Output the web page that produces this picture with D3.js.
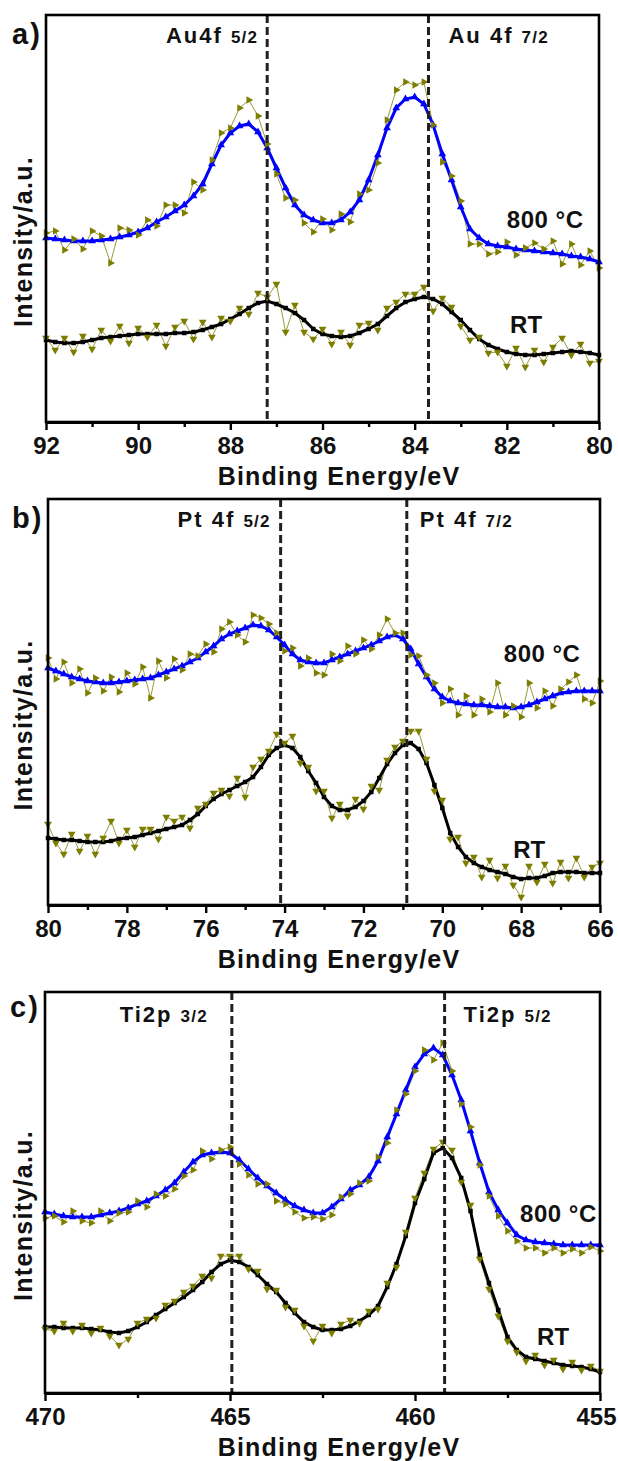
<!DOCTYPE html>
<html>
<head>
<meta charset="utf-8">
<script src="https://cdn.jsdelivr.net/npm/d3@7/dist/d3.min.js"></script>
<style>
  body { margin: 0; background: #fff; }
  svg text { font-family: "Liberation Sans", Arial, sans-serif; font-weight: bold; fill: #111; }
</style>
</head>
<body>
<svg id="chart" width="618" height="1461"></svg>
<script>
// ---- data (intensity in arbitrary units) ----

// a) Au 4f, 92 -> 80 eV, step 0.2
const auEnergy = d3.range(61).map(i => +(92 - 0.2 * i).toFixed(2));
const auFit800 = [
  184, 183, 182, 181, 181, 181, 182, 183, 185, 187,
  190, 194, 200, 205, 211, 217, 226, 238, 258, 277,
  289, 296, 298, 290, 274, 254, 234, 217, 207, 202,
  199, 199, 202, 210, 222, 242, 267, 294, 314, 323,
  325, 318, 297, 268, 242, 215, 193, 184, 178, 176,
  175, 173, 172, 171, 170, 169, 168, 166, 165, 163,
  160];
const auRaw800 = [
  189, 191, 172, 183, 173, 191, 186, 159, 194, 192,
  187, 202, 196, 217, 217, 209, 240, 232, 262, 289,
  294, 314, 322, 306, 278, 248, 224, 222, 199, 190,
  203, 192, 208, 200, 228, 232, 259, 302, 332, 340,
  337, 340, 297, 260, 246, 221, 178, 178, 168, 170,
  180, 167, 174, 179, 173, 181, 158, 178, 157, 171,
  154];
const auFitRT = [
  82, 80, 79, 79, 80, 82, 84, 85, 86, 87,
  88, 88, 88, 88, 89, 89, 90, 92, 95, 98,
  103, 108, 114, 119, 121, 118, 114, 109, 102, 93,
  88, 86, 85, 86, 89, 93, 98, 106, 114, 120,
  123, 125, 123, 118, 110, 102, 92, 83, 77, 73,
  70, 68, 67, 67, 68, 69, 70, 71, 70, 69,
  67];
const auRawRT = [
  84, 72, 84, 70, 86, 73, 92, 81, 96, 79,
  94, 85, 97, 76, 95, 101, 83, 100, 85, 104,
  101, 114, 108, 129, 125, 138, 90, 117, 90, 83,
  93, 78, 90, 77, 97, 99, 92, 114, 120, 128,
  128, 135, 111, 124, 115, 96, 82, 85, 69, 70,
  56, 74, 55, 72, 60, 75, 84, 67, 78, 59,
  61];

// b) Pt 4f, 80 -> 66 eV, step 0.2
const ptEnergy = d3.range(71).map(i => +(80 - 0.2 * i).toFixed(2));
const ptFit800 = [
  237, 234, 231, 228, 226, 224, 223, 222, 222, 223,
  224, 225, 226, 227, 230, 233, 236, 239, 243, 247,
  253, 259, 266, 271, 274, 277, 280, 279, 275, 268,
  260, 251, 245, 243, 242, 242, 245, 248, 251, 254,
  257, 260, 264, 268, 270, 266, 256, 241, 228, 216,
  208, 204, 202, 201, 200, 200, 199, 198, 198, 197,
  198, 200, 203, 206, 209, 212, 213, 214, 214, 214,
  214];
const ptRaw800 = [
  247, 226, 243, 222, 236, 212, 227, 214, 228, 213,
  232, 221, 238, 207, 244, 227, 246, 235, 251, 249,
  261, 253, 276, 283, 270, 263, 290, 287, 281, 272,
  254, 257, 239, 247, 232, 230, 251, 244, 259, 251,
  265, 256, 270, 286, 272, 272, 250, 249, 230, 222,
  202, 216, 190, 209, 190, 206, 193, 222, 190, 199,
  188, 222, 197, 214, 199, 216, 223, 230, 206, 202,
  224];
const ptFitRT = [
  67, 66, 65, 65, 64, 63, 63, 63, 64, 66,
  67, 68, 70, 72, 74, 76, 78, 80, 85, 91,
  99, 106, 111, 115, 119, 123, 128, 138, 150, 157,
  160, 157, 148, 134, 122, 108, 99, 95, 95, 98,
  104, 113, 127, 141, 152, 160, 162, 156, 142, 120,
  97, 72, 58, 48, 42, 38, 35, 33, 31, 28,
  26, 27, 27, 29, 32, 33, 33, 33, 32, 32,
  32];
const ptRawRT = [
  81, 62, 51, 71, 54, 69, 51, 67, 84, 62,
  75, 58, 76, 76, 66, 88, 84, 88, 77, 97,
  101, 112, 115, 109, 127, 108, 138, 146, 154, 171,
  162, 169, 142, 138, 114, 114, 87, 101, 89, 106,
  96, 119, 115, 145, 158, 164, 174, 174, 146, 114,
  105, 66, 68, 42, 48, 28, 45, 27, 39, 20,
  8, 39, 23, 41, 22, 43, 27, 47, 28, 38,
  42];

// c) Ti 2p, 470 -> 455 eV, step 0.25
const tiEnergy = d3.range(61).map(i => +(470 - 0.25 * i).toFixed(2));
const tiFit800 = [
  181, 179, 177, 176, 176, 176, 178, 180, 182, 185,
  189, 192, 197, 203, 210, 221, 231, 238, 240, 241,
  240, 233, 224, 215, 207, 200, 193, 187, 183, 180,
  180, 186, 194, 203, 208, 216, 232, 256, 279, 303,
  326, 339, 345, 338, 318, 293, 262, 230, 201, 183,
  170, 158, 153, 151, 150, 149, 148, 148, 148, 148,
  148];
const tiRaw800 = [
  175, 177, 171, 182, 172, 170, 182, 172, 180, 181,
  192, 186, 199, 197, 204, 217, 223, 242, 234, 243,
  246, 229, 218, 209, 209, 192, 189, 181, 175, 176,
  174, 178, 196, 199, 210, 212, 236, 250, 283, 299,
  322, 343, 333, 350, 322, 289, 266, 228, 197, 177,
  162, 152, 145, 145, 140, 145, 140, 144, 140, 146,
  142];
const tiFitRT = [
  66, 66, 65, 65, 65, 64, 63, 61, 60, 62,
  66, 71, 78, 84, 90, 96, 103, 111, 121, 129,
  133, 131, 126, 118, 109, 101, 90, 80, 71, 66,
  63, 63, 64, 67, 72, 78, 87, 106, 129, 157,
  190, 214, 240, 245, 235, 215, 182, 138, 110, 83,
  56, 43, 36, 34, 32, 30, 28, 27, 26, 24,
  21];
const tiRawRT = [
  64, 62, 70, 62, 68, 60, 65, 57, 48, 54,
  70, 74, 75, 88, 92, 101, 107, 117, 115, 137,
  137, 137, 124, 122, 104, 103, 86, 83, 67, 52,
  67, 60, 69, 73, 70, 82, 84, 110, 126, 161,
  195, 220, 244, 251, 243, 211, 188, 134, 104, 77,
  52, 41, 32, 38, 28, 33, 24, 31, 23, 27,
  22];

// ticks
const auTicks = [92, 90, 88, 86, 84, 82, 80];
const auMinor = [91, 89, 87, 85, 83, 81];
const ptTicks = [80, 78, 76, 74, 72, 70, 68, 66];
const ptMinor = [79, 77, 75, 73, 71, 69, 67];
const tiTicks = [470, 465, 460, 455];
const tiMinor = [467.5, 462.5, 457.5];

// peak positions (eV) and their names
const auPeaks = [87.2, 83.7];
const auPeakNames = [["Au4f", "5/2"], ["Au 4f", "7/2"]];
const ptPeaks = [74.1, 70.9];
const ptPeakNames = [["Pt 4f", "5/2"], ["Pt 4f", "7/2"]];
const tiPeaks = [464.95, 459.2];
const tiPeakNames = [["Ti2p", "3/2"], ["Ti2p", "5/2"]];

// ---- layout ----
const panels = [
  { letter: "a)", letterPos: [12, 44], energy: auEnergy, fit800: auFit800, raw800: auRaw800, fitRT: auFitRT, rawRT: auRawRT,
    xDomain: [92, 80], yMax: 407, ticks: auTicks, minor: auMinor, peaks: auPeaks, peakNames: auPeakNames, peakGap: [9, 20], peakDy: 28,
    hot: [82.0, 194], rt: [81.93, 89], left: 46, right: 599, top: 15, bottom: 422 },
  { letter: "b)", letterPos: [12, 528], energy: ptEnergy, fit800: ptFit800, raw800: ptRaw800, fitRT: ptFitRT, rawRT: ptRawRT,
    xDomain: [80, 66], yMax: 406, ticks: ptTicks, minor: ptMinor, peaks: ptPeaks, peakNames: ptPeakNames, peakGap: [10, 13], peakDy: 28,
    hot: [68.44, 243], rt: [68.2, 47], left: 48, right: 600, top: 499, bottom: 905 },
  { letter: "c)", letterPos: [10, 1017], energy: tiEnergy, fit800: tiFit800, raw800: tiRaw800, fitRT: tiFitRT, rawRT: tiRawRT,
    xDomain: [470, 455], yMax: 401, ticks: tiTicks, minor: tiMinor, peaks: tiPeaks, peakNames: tiPeakNames, peakGap: [24, 19], peakDy: 30,
    hot: [457.16, 171], rt: [456.7, 48], left: 45, right: 600, top: 992, bottom: 1393 }
];

const BLUE = "#0000ff";
const OLIVE = "#7d7d00";
const OLIVE_LINE = "#9a9a3a";
const PAGE_W = 618;

const svg = d3.select("#chart");

function drawSeries(g, x, y, energy, values, opts) {
  const pts = d3.zip(energy, values);
  const line = d3.line().x(d => x(d[0])).y(d => y(d[1]));
  g.append("path")
    .datum(pts)
    .attr("fill", "none")
    .attr("stroke", opts.lineColor)
    .attr("stroke-width", opts.lineWidth)
    .attr("d", line);
  if (opts.noMarkers) return;
  const sym = d3.symbol().type(opts.symbol).size(opts.size);
  g.append("g").selectAll("path")
    .data(pts)
    .join("path")
    .attr("d", sym)
    .attr("fill", opts.fill)
    .attr("transform", d => `translate(${x(d[0])},${y(d[1])}) rotate(${opts.rotate || 0})`);
}

function drawPanel(p) {
  const g = svg.append("g");
  const x = d3.scaleLinear().domain(p.xDomain).range([p.left, p.right]);
  const y = d3.scaleLinear().domain([0, p.yMax]).range([p.bottom, p.top]);

  // raw lines first, then fits, then raw markers on top
  const rawOpts = { lineColor: OLIVE_LINE, lineWidth: 1, noMarkers: true };
  drawSeries(g, x, y, p.energy, p.raw800, rawOpts);
  drawSeries(g, x, y, p.energy, p.rawRT, rawOpts);

  drawSeries(g, x, y, p.energy, p.fit800,
    { lineColor: BLUE, lineWidth: 3, symbol: d3.symbolTriangle, size: 26, fill: BLUE });
  drawSeries(g, x, y, p.energy, p.fitRT,
    { lineColor: "#000", lineWidth: 3, symbol: d3.symbolSquare, size: 20, fill: "#000" });

  const rawMark = { lineColor: "none", lineWidth: 0, symbol: d3.symbolTriangle, size: 26, fill: OLIVE };
  drawSeries(g, x, y, p.energy, p.raw800, Object.assign({}, rawMark, { rotate: 90 }));
  drawSeries(g, x, y, p.energy, p.rawRT, Object.assign({}, rawMark, { rotate: 180 }));

  // peak position markers
  g.selectAll(".peak")
    .data(p.peaks)
    .join("line")
    .attr("x1", d => x(d)).attr("x2", d => x(d))
    .attr("y1", p.top).attr("y2", p.bottom)
    .attr("stroke", "#231f20")
    .attr("stroke-width", 3)
    .attr("stroke-dasharray", "8,4");

  // frame
  g.append("rect")
    .attr("x", p.left).attr("y", p.top)
    .attr("width", p.right - p.left).attr("height", p.bottom - p.top)
    .attr("fill", "none").attr("stroke", "#000").attr("stroke-width", 2.6);

  // bottom axis, major + minor
  const major = d3.axisBottom(x).tickValues(p.ticks).tickSize(8).tickSizeOuter(0).tickPadding(7).tickFormat(d3.format("d"));
  const minor = d3.axisBottom(x).tickValues(p.minor).tickSize(5).tickSizeOuter(0).tickFormat(() => "");
  const axG = g.append("g").attr("transform", `translate(0,${p.bottom})`).call(major);
  g.append("g").attr("transform", `translate(0,${p.bottom})`).call(minor)
    .call(s => s.select(".domain").remove());
  axG.select(".domain").attr("stroke-width", 3);
  g.selectAll(".tick line").attr("stroke", "#000").attr("stroke-width", 2.4);
  axG.selectAll(".tick text")
    .attr("font-size", 24)
    .attr("font-family", '"Liberation Sans", Arial, sans-serif')
    .attr("font-weight", "bold")
    .attr("fill", "#111")
    .each(function (d) {
      // keep the last label inside the page, as the original does
      const w = this.getComputedTextLength();
      const over = x(d) + w / 2 - (PAGE_W - 2);
      if (over > 0) d3.select(this).attr("dx", -over);
    });

  // axis titles
  g.append("text")
    .attr("x", 339).attr("y", p.bottom + 63)
    .attr("text-anchor", "middle")
    .attr("font-size", 25)
    .attr("letter-spacing", 1.2)
    .text("Binding Energy/eV");
  g.append("text")
    .attr("transform", `translate(32,${(p.top + p.bottom) / 2 + 23}) rotate(-90)`)
    .attr("text-anchor", "middle")
    .attr("font-size", 25)
    .attr("letter-spacing", 1.3)
    .text("Intensity/a.u.");

  // panel letter
  g.append("text")
    .attr("x", p.letterPos[0]).attr("y", p.letterPos[1])
    .attr("font-size", 29)
    .attr("letter-spacing", 2)
    .text(p.letter);

  // peak names: first sits left of its line, second right of it
  p.peaks.forEach((e, i) => {
    const t = g.append("text")
      .attr("x", i === 0 ? x(e) - p.peakGap[0] : x(e) + p.peakGap[1])
      .attr("y", p.top + p.peakDy)
      .attr("text-anchor", i === 0 ? "end" : "start")
      .attr("font-size", 22)
      .attr("letter-spacing", 2);
    t.append("tspan").text(p.peakNames[i][0] + " ");
    t.append("tspan").attr("font-size", 17).attr("letter-spacing", 1.2).text(p.peakNames[i][1]);
  });

  // series names
  g.append("text").attr("x", x(p.hot[0])).attr("y", y(p.hot[1]))
    .attr("font-size", 24).attr("letter-spacing", 0.5).text("800 °C");
  g.append("text").attr("x", x(p.rt[0])).attr("y", y(p.rt[1]))
    .attr("font-size", 24).text("RT");
}

panels.forEach(drawPanel);
</script>
</body>
</html>
